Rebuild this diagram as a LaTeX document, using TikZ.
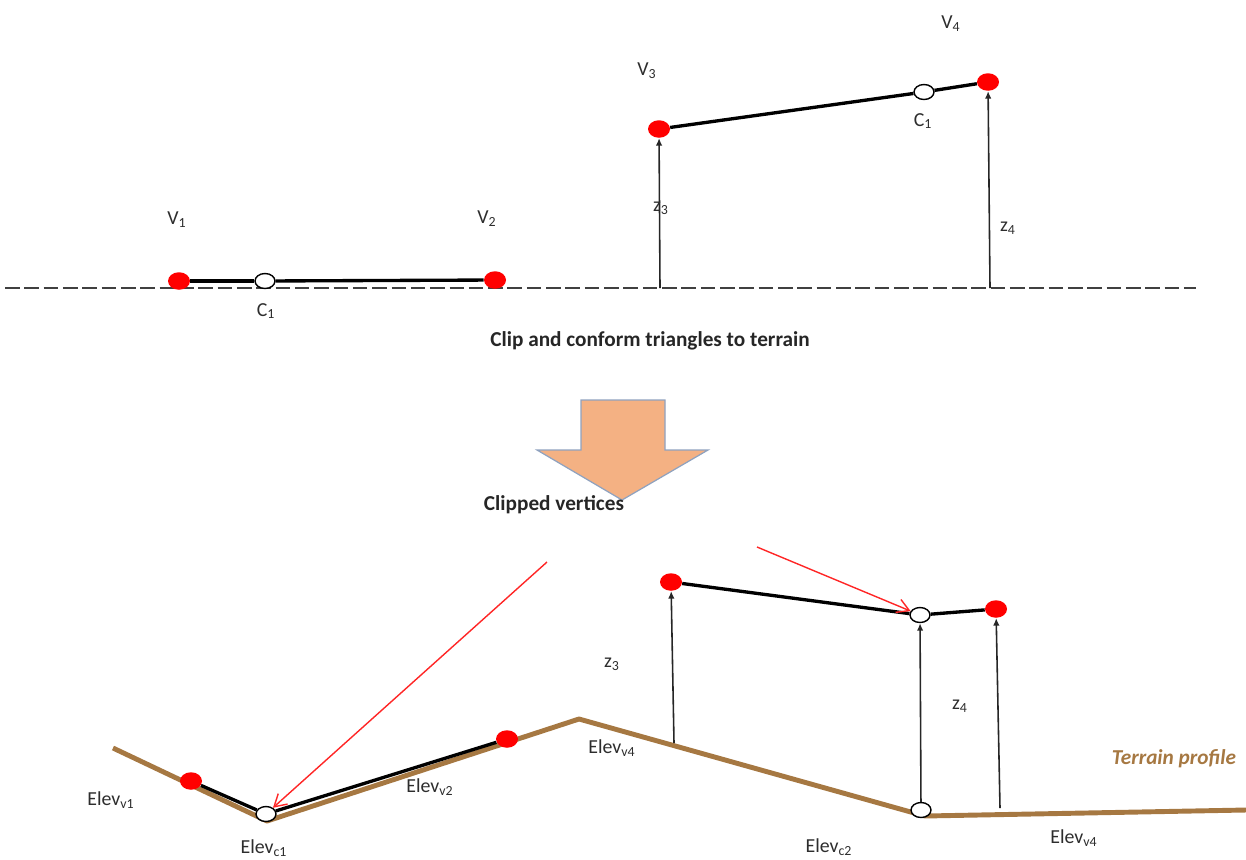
\documentclass[tikz,border=0pt]{standalone}
\usepackage{fontspec}
\setmainfont{Carlito}
\usetikzlibrary{arrows.meta,positioning,shapes.geometric}
\definecolor{terrainbrown}{RGB}{166,120,66}
\definecolor{blockfill}{RGB}{244,177,131}
\definecolor{blockedge}{RGB}{143,162,191}
\definecolor{vertexred}{RGB}{255,0,0}
\definecolor{labelgray}{RGB}{45,45,45}
\tikzset{
  tvertex/.style={ellipse,fill=vertexred,minimum width=0.44cm,minimum height=0.35cm,inner sep=0pt},
  tclip/.style={ellipse,draw=black,fill=white,line width=0.8pt,minimum width=0.40cm,minimum height=0.30cm,inner sep=0pt},
  tlabel/.style={font=\fontsize{11.3}{13}\selectfont,color=labelgray,inner sep=0pt},
  tbold/.style={font=\fontsize{12.1}{14}\selectfont\bfseries,color=black!85,inner sep=0pt},
  tedge/.style={draw=black,line width=1.9pt},
  tground/.style={draw=black!75,line width=0.8pt,dash pattern=on 8.3pt off 2.7pt},
  tarrow/.style={-{Latex[length=1.5mm,width=1.3mm]},draw=black!85,line width=0.9pt},
  tpointer/.style={-{Straight Barb[length=2.4mm,width=2.8mm]},draw=vertexred!85,line width=0.8pt},
  tprofile/.style={draw=terrainbrown,line width=2.8pt,line join=round},
}
\begin{document}
\begin{tikzpicture}[x=0.02cm,y=-0.02cm]
\useasboundingbox (0,0) rectangle (1246,859);

% ============ band 1: triangles before clipping ============
\coordinate (gl) at (5,288);
\coordinate (gr) at (1196,288);
\draw[tground] (gl) -- (gr);
\coordinate (b3) at (660,288);
\coordinate (b4) at (990,288);

\node[tvertex] (v1) at (179,281) {};
\node[tclip] (c1) at (265,281) {};
\node[tvertex] (v2) at (495,280) {};
\draw[tedge] (v1) -- (c1);
\draw[tedge] (c1) -- (v2);

\node[tvertex] (v3) at (659,129) {};
\node[tclip] (c3) at (924,92) {};
\node[tvertex] (v4) at (988,82) {};
\draw[tedge] (v3) -- (c3);
\draw[tedge] (c3) -- (v4);
\draw[tarrow] (b3) -- (v3);
\draw[tarrow] (b4) -- (v4);

\foreach \i/\lab/\x/\y in {%
  a/{V\textsubscript{1}}/177/220,
  b/{V\textsubscript{2}}/487/219,
  c/{V\textsubscript{3}}/647/71,
  d/{V\textsubscript{4}}/951/24,
  e/{C\textsubscript{1}}/266/311,
  f/{C\textsubscript{1}}/923/121,
  g/{z\textsubscript{3}}/661/208,
  h/{z\textsubscript{4}}/1008/228} {
  \node[tlabel] (top\i) at (\x,\y) {\lab};
}

\node[tbold] (cliptitle) at (650,341) {Clip and conform triangles to terrain};

% ============ band 2: block arrow ============
\draw[fill=blockfill,draw=blockedge,line width=0.7pt,line join=miter]
  (581,400) -- (665,400) -- (665,450) -- (708,450) -- (622,500) -- (537,450) -- (581,450) -- cycle;
\node[tbold] (clipped) at (554,505) {Clipped vertices};

% ============ band 3: conformed to the terrain ============
\draw[tprofile] (113,748) -- (267,821) -- (579,719) -- (925,816) -- (1246,810);

\node[tvertex] (w1) at (191,781) {};
\node[tclip] (w0) at (266,814) {};
\node[tvertex] (w2) at (507,739) {};
\draw[tedge] (w1) -- (w0);
\draw[tedge] (w0) -- (w2);

\node[tvertex] (w3) at (671,582) {};
\node[tclip] (w5) at (920,615) {};
\node[tvertex] (w4) at (996,609) {};
\node[tclip] (w6) at (921,810) {};
\draw[tedge] (w3) -- (w5);
\draw[tedge] (w5) -- (w4);

\coordinate (f3) at (674,743);
\coordinate (f4) at (1000,808);
\draw[tarrow] (f3) -- (w3);
\draw[tarrow] (w6) -- (w5);
\draw[tarrow] (f4) -- (w4);

% free ends of the two pointers
\coordinate (p1) at (547,562);
\coordinate (p2) at (757,547);
\draw[tpointer] (p1) -- (w0);
\draw[tpointer] (p2) -- (w5);

\foreach \i/\lab/\x/\y in {%
  a/{Elev\textsubscript{v1}}/111/800,
  b/{Elev\textsubscript{v2}}/430/787,
  c/{Elev\textsubscript{c1}}/264/848,
  d/{Elev\textsubscript{v4}}/612/748,
  e/{Elev\textsubscript{c2}}/829/847,
  f/{Elev\textsubscript{v4}}/1074/838,
  g/{z\textsubscript{3}}/612/664,
  h/{z\textsubscript{4}}/960/706} {
  \node[tlabel] (low\i) at (\x,\y) {\lab};
}
\node[font=\fontsize{12.1}{14}\selectfont\bfseries\itshape,color=terrainbrown,inner sep=0pt] (terrain) at (1174,759) {Terrain profile};
\end{tikzpicture}
\end{document}
